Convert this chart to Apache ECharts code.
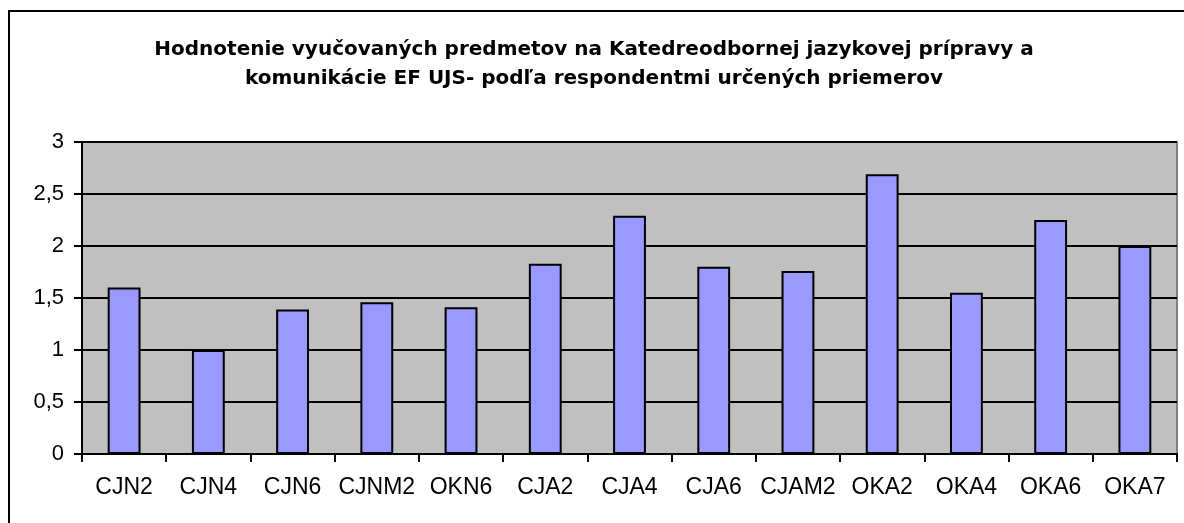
<!DOCTYPE html>
<html>
<head>
<meta charset="utf-8">
<script src="https://cdn.jsdelivr.net/npm/echarts@6/dist/echarts.min.js"></script>
<style>
    html, body { margin: 0; padding: 0; background: #fff; }
    #main { width: 1184px; height: 523px; }
</style>
</head>
<body>
<div id="main"></div>
<script>
var titleLines = [
    'Hodnotenie vyučovaných predmetov na Katedreodbornej jazykovej prípravy a',
    'komunikácie EF UJS- podľa respondentmi určených priemerov'
];
var categories = ['CJN2', 'CJN4', 'CJN6', 'CJNM2', 'OKN6', 'CJA2', 'CJA4', 'CJA6', 'CJAM2', 'OKA2', 'OKA4', 'OKA6', 'OKA7'];
var averages = [1.6, 1.0, 1.39, 1.46, 1.41, 1.83, 2.29, 1.8, 1.76, 2.69, 1.55, 2.25, 2.0];

var myChart = echarts.init(document.getElementById('main'));

var option = {
    animation: false,
    backgroundColor: '#ffffff',
    title: {
        text: titleLines.join('\n'),
        left: 589,
        textAlign: 'center',
        top: 30,
        textStyle: {
            fontFamily: 'DejaVu Sans, sans-serif',
            fontWeight: 'bold',
            fontSize: 20,
            lineHeight: 29,
            color: '#000'
        }
    },
    // ramik okolo celeho grafu
    graphic: [{
        type: 'rect',
        shape: { x: 9, y: 11, width: 1190, height: 520 },
        style: { fill: null, stroke: '#000', lineWidth: 2 },
        silent: true
    }],
    grid: {
        left: 82,
        right: 7,
        top: 142,
        bottom: 69,
        show: true,
        backgroundColor: '#c0c0c0',
        borderColor: '#808080',
        borderWidth: 2
    },
    xAxis: {
        type: 'category',
        data: categories,
        axisLine: { lineStyle: { color: '#000', width: 2 } },
        axisTick: { show: true, length: 8, lineStyle: { color: '#000', width: 2 } },
        axisLabel: {
            interval: 0,
            color: '#000',
            fontFamily: 'Liberation Sans, Arial, sans-serif',
            fontSize: 23,
            margin: 22
        }
    },
    yAxis: {
        type: 'value',
        min: 0,
        max: 3,
        interval: 0.5,
        axisLine: { show: true, lineStyle: { color: '#000', width: 2 } },
        axisTick: { show: true, length: 8, lineStyle: { color: '#000', width: 2 } },
        axisLabel: {
            color: '#000',
            fontFamily: 'Liberation Sans, Arial, sans-serif',
            fontSize: 22,
            margin: 18,
            formatter: function (v) {
                return String(v).replace('.', ',');
            }
        },
        splitLine: { show: true, lineStyle: { color: '#000', width: 2 } }
    },
    series: [{
        type: 'bar',
        data: averages,
        barWidth: '39%',
        itemStyle: {
            color: '#9999ff',
            borderColor: '#000',
            borderWidth: 2
        }
    }]
};

myChart.setOption(option);
</script>
</body>
</html>
